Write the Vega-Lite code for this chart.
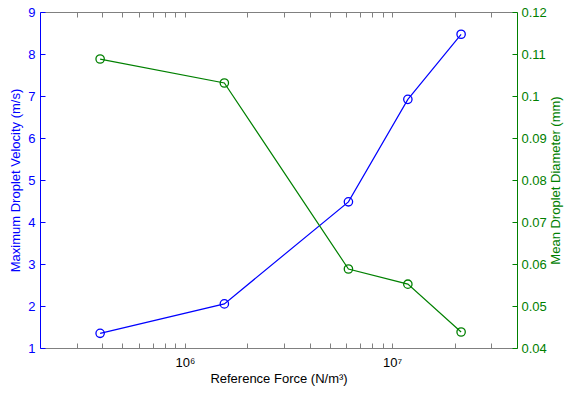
{
  "$schema": "https://vega.github.io/schema/vega-lite/v6.json",
  "autosize": "none",
  "width": 477,
  "height": 336,
  "padding": {"left": 40, "top": 12, "right": 49, "bottom": 50},
  "background": "white",
  "config": {
    "view": {"stroke": null},
    "font": "Liberation Sans",
    "axis": {"grid": false, "labelFont": "Liberation Sans", "titleFont": "Liberation Sans", "labelFontSize": 13, "titleFontSize": 13, "titleFontWeight": "normal", "tickSize": -5, "domainWidth": 1, "tickWidth": 1}
  },
  "data": {
    "values": [
      {"force": 390000, "velocity": 1.35, "diameter": 0.1088},
      {"force": 1550000, "velocity": 2.05, "diameter": 0.1031},
      {"force": 6150000, "velocity": 4.48, "diameter": 0.0588},
      {"force": 11900000, "velocity": 6.92, "diameter": 0.0552},
      {"force": 21500000, "velocity": 8.47, "diameter": 0.0438}
    ]
  },
  "encoding": {
    "x": {
      "field": "force", "type": "quantitative",
      "scale": {"type": "log", "domain": [200000, 40000000], "nice": false}
    }
  },
  "layer": [
    {
      "mark": {"type": "line", "color": "#0000ff", "strokeWidth": 1.2, "point": {"shape": "circle", "filled": false, "size": 70, "strokeWidth": 1.3, "color": "#0000ff"}},
      "encoding": {
        "x": {
          "field": "force", "type": "quantitative",
          "axis": {
            "orient": "bottom", "title": "Reference Force (N/m³)", "titleColor": "#000000", "titlePadding": 3,
            "values": [300000, 400000, 500000, 600000, 700000, 800000, 900000, 1000000, 2000000, 3000000, 4000000, 5000000, 6000000, 7000000, 8000000, 9000000, 10000000, 20000000, 30000000],
            "labelExpr": "datum.value == 1000000 ? '10⁶' : (datum.value == 10000000 ? '10⁷' : '')",
            "labelPadding": 13, "labelColor": "#000000", "domainColor": "#808080", "tickColor": "#808080"
          }
        },
        "y": {
          "field": "velocity", "type": "quantitative",
          "scale": {"domain": [1, 9], "nice": false, "zero": false},
          "axis": {
            "orient": "left", "title": "Maximum Droplet Velocity (m/s)", "titleColor": "#0000ff", "labelColor": "#0000ff",
            "domainColor": "#0000ff", "tickColor": "#0000ff", "values": [1, 2, 3, 4, 5, 6, 7, 8, 9], "labelPadding": 10, "titlePadding": 5
          }
        }
      }
    },
    {
      "mark": {"type": "line", "color": "#008000", "strokeWidth": 1.2, "point": {"shape": "circle", "filled": false, "size": 70, "strokeWidth": 1.3, "color": "#008000"}},
      "encoding": {
        "x": {
          "field": "force", "type": "quantitative",
          "axis": {
            "orient": "top", "title": null, "labels": false,
            "values": [300000, 400000, 500000, 600000, 700000, 800000, 900000, 1000000, 2000000, 3000000, 4000000, 5000000, 6000000, 7000000, 8000000, 9000000, 10000000, 20000000, 30000000],
            "domainColor": "#808080", "tickColor": "#808080"
          }
        },
        "y": {
          "field": "diameter", "type": "quantitative",
          "scale": {"domain": [0.04, 0.12], "nice": false, "zero": false},
          "axis": {
            "orient": "right", "title": "Mean Droplet Diameter (mm)", "titleColor": "#008000", "labelColor": "#008000", "titleAngle": -90, "titleBaseline": "top",
            "domainColor": "#008000", "tickColor": "#008000", "values": [0.04, 0.05, 0.06, 0.07, 0.08, 0.09, 0.1, 0.11, 0.12], "labelExpr": "format(datum.value, '~g')", "labelPadding": 9, "titlePadding": 3
          }
        }
      }
    }
  ],
  "resolve": {"scale": {"y": "independent"}, "axis": {"x": "independent", "y": "independent"}}
}
